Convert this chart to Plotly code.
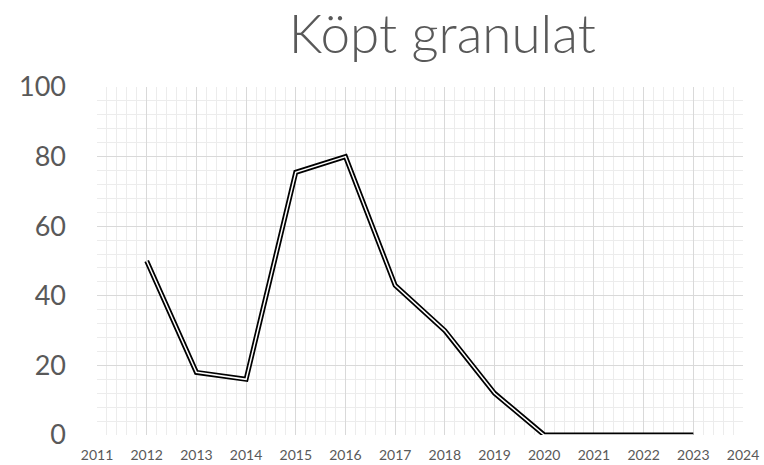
import plotly.graph_objects as go

years = [2012, 2013, 2014, 2015, 2016, 2017, 2018, 2019, 2020, 2021, 2022, 2023]
values = [50, 18, 16, 75.5, 80, 43, 30, 12, 0, 0, 0, 0]
title_text = "Köpt granulat"
x_ticks = list(range(2011, 2025))
y_ticks = [0, 20, 40, 60, 80, 100]

fig = go.Figure()
fig.add_trace(go.Scatter(x=years, y=values, mode="lines",
                         line=dict(color="#000000", width=5), hoverinfo="skip"))
fig.add_trace(go.Scatter(x=years, y=values, mode="lines",
                         line=dict(color="#ffffff", width=1.5)))

fig.update_layout(
    width=764, height=465,
    margin=dict(l=97, r=21, t=87, b=30, autoexpand=False),
    paper_bgcolor="white", plot_bgcolor="white",
    showlegend=False,
    title=dict(text=title_text, x=0.579, xanchor="center", y=0.925, yanchor="middle",
               font=dict(family="Lato", size=53, weight=300, color="#595959")),
    font=dict(family="Lato", color="#595959"),
)
fig.update_xaxes(range=[2011, 2024], tickvals=x_ticks, ticktext=[str(t) for t in x_ticks],
                 showgrid=True, gridcolor="#d9d9d9", gridwidth=1,
                 minor=dict(dtick=0.2, tick0=2011, showgrid=True, gridcolor="#ececec", gridwidth=1),
                 zeroline=False, showline=False, ticks="", automargin=False,
                 ticklabelstandoff=10,
                 tickfont=dict(size=14, color="#595959"))
fig.update_yaxes(range=[0, 100], tickvals=y_ticks,
                 showgrid=True, gridcolor="#d9d9d9", gridwidth=1,
                 minor=dict(dtick=4, tick0=0, showgrid=True, gridcolor="#ececec", gridwidth=1),
                 zeroline=False, showline=False, ticks="", automargin=False,
                 ticklabelstandoff=30,
                 tickfont=dict(size=27, color="#595959"))

fig.write_html("out.html", config={"displayModeBar": False},
               post_script="document.body.style.margin='0';")
